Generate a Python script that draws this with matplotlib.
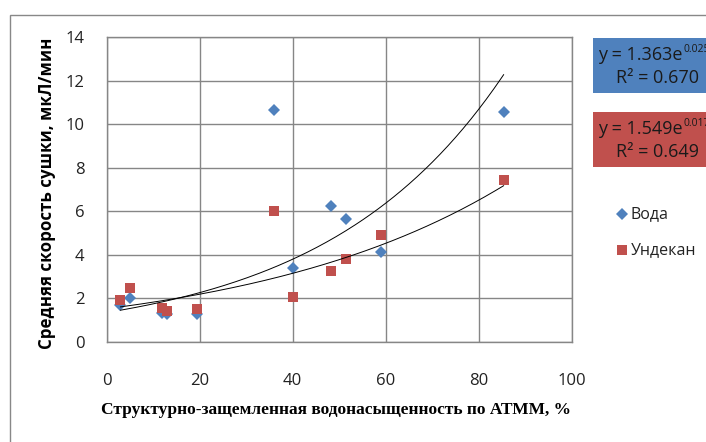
import numpy as np
import matplotlib
matplotlib.use("Agg")
import matplotlib.pyplot as plt
from matplotlib.patches import Rectangle

plt.rcParams['font.family'] = ['Open Sans', 'DejaVu Sans']

# Data
x_vals = [3, 5, 12, 13, 19.5, 36, 40, 48.3, 51.6, 59.1, 85.4]
voda = [1.70, 2.00, 1.35, 1.29, 1.27, 10.64, 3.39, 6.23, 5.65, 4.13, 10.56]
undekan = [1.93, 2.50, 1.55, 1.43, 1.50, 6.00, 2.05, 3.27, 3.81, 4.93, 7.42]
series_names = ["Вода", "Ундекан"]
eq_main = ["y = 1.363e", "y = 1.549e"]
eq_exp = ["0.025x", "0.017x"]
r2_texts = ["R² = 0.670", "R² = 0.649"]
x_ticks = [0, 20, 40, 60, 80, 100]
y_ticks = [0, 2, 4, 6, 8, 10, 12, 14]
x_label = "Структурно-защемленная водонасыщенность по АТММ, %"
y_label = "Средняя скорость сушки, мкЛ/мин"

blue = "#4F81BD"
red = "#C0504D"
grid_c = "#868686"

W, H = 706, 442
fig = plt.figure(figsize=(W / 100, H / 100), dpi=100)
ax = fig.add_axes([106.5 / W, 1 - 342 / H, (571.5 - 106.5) / W, (342 - 37) / H])

x = np.array(x_vals)
for yv, c, m, ms in [(voda, blue, 'D', 6.5), (undekan, red, 's', 7.5)]:
    y = np.array(yv)
    ax.plot(x, y, linestyle='none', marker=m, color=c, markersize=ms,
            markeredgewidth=0, zorder=3)

# exponential trend lines (least squares on ln y)
xx = np.linspace(min(x_vals), max(x_vals), 200)
for yv in (voda, undekan):
    b, lna = np.polyfit(x, np.log(yv), 1)
    ax.plot(xx, np.exp(lna) * np.exp(b * xx), color='black', lw=0.7, zorder=4)

ax.set_xlim(0, 100)
ax.set_ylim(0, 14)
ax.set_xticks(x_ticks)
ax.set_yticks(y_ticks)
ax.tick_params(axis='both', length=0, labelsize=12, colors='#222222')
ax.tick_params(axis='x', pad=22)
ax.tick_params(axis='y', pad=16)
ax.grid(True, color=grid_c, lw=1)
ax.set_axisbelow(True)
for s in ax.spines.values():
    s.set_color(grid_c)
    s.set_linewidth(1)

fig.text(336 / W, 1 - 410 / H, x_label, ha='center', va='center',
         family=['Liberation Serif'], fontweight='bold', fontsize=12.5,
         color='black')
fig.text(47 / W, 1 - 193 / H, y_label, ha='center', va='center',
         rotation=90, fontweight='bold', fontsize=12.2, color='black')

# legend
for i, (name, c, m, ms) in enumerate([(series_names[0], blue, 'D', 6),
                                       (series_names[1], red, 's', 7)]):
    yy = 1 - (214 + 36 * i) / H
    fig.lines.append(plt.Line2D([622 / W], [yy], marker=m, color=c,
                                markersize=ms, markeredgewidth=0,
                                transform=fig.transFigure))
    fig.text(631 / W, yy, name, ha='left', va='center', fontsize=11.5,
             color='#222222')

# equation boxes
renderer = fig.canvas.get_renderer()
for i, c in enumerate([blue, red]):
    top = 38 + 74 * i
    fig.patches.append(Rectangle((593 / W, 1 - (top + 55) / H), 200 / W, 55 / H,
                                 transform=fig.transFigure, facecolor=c,
                                 edgecolor='none'))
    t = fig.text(598 / W, 1 - (top + 17) / H, eq_main[i], ha='left',
                 va='center', fontsize=13, color='#1a1a1a')
    bb = t.get_window_extent(renderer)
    fig.text((bb.x1 + 0.5) / W, 1 - (top + 11) / H, eq_exp[i], ha='left',
             va='center', fontsize=7.5, color='#1a1a1a')
    fig.text(616 / W, 1 - (top + 40) / H, r2_texts[i], ha='left',
             va='center', fontsize=13, color='#1a1a1a')

# outer chart border (left and top visible)
fig.patches.append(Rectangle((10 / W, -0.1), 1.2, 1 - 15 / H + 0.1,
                             transform=fig.transFigure, facecolor='none',
                             edgecolor='#888888', lw=1))

fig.savefig("out.png", dpi=100)
